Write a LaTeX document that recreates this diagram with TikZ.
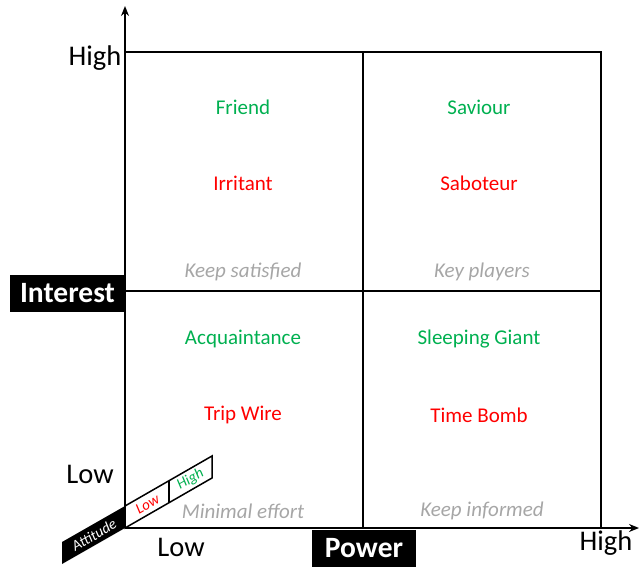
\documentclass[tikz,border=0pt]{standalone}
\usepackage{fontspec}
\setmainfont{Carlito}
\usetikzlibrary{arrows.meta}
\definecolor{grn}{HTML}{00B050}
\definecolor{rd}{HTML}{FF0000}
\definecolor{gry}{HTML}{A6A6A6}
\begin{document}
\begin{tikzpicture}[x=1pt,y=-1pt,
  gridline/.style={line width=2.6pt},
  axisline/.style={line width=2.6pt,-{Stealth[length=10pt,width=8pt]}},
  qtext/.style={font=\fontsize{21}{25}\selectfont,inner sep=0pt},
  good/.style={qtext,text=grn},
  bad/.style={qtext,text=rd},
  strat/.style={font=\fontsize{21}{25}\selectfont\itshape,text=gry,inner sep=0pt},
  axlab/.style={font=\fontsize{28.5}{32}\selectfont,inner sep=0pt},
  axbox/.style={fill=black,text=white,font=\fontsize{29.5}{32}\selectfont\bfseries,inner sep=0pt,minimum height=37pt},
  attbox/.style={line width=1.5pt,draw=black},
  atttext/.style={font=\fontsize{15}{17}\selectfont\itshape,inner sep=0pt,rotate=29.8},
]
\useasboundingbox (0,0) rectangle (639,567);
% key points
\coordinate (O) at (125,528);
\coordinate (ytop) at (125,6);
\coordinate (xend) at (639,528);
\coordinate (TL) at (125,52);
\coordinate (TM) at (363,52);
\coordinate (TR) at (601,52);
\coordinate (ML) at (125,291);
\coordinate (MR) at (601,291);
\coordinate (BM) at (363,528);
\coordinate (BR) at (601,528);
% grid
\draw[gridline] (TL) -- (TR) -- (BR);
\draw[gridline] (TM) -- (BM);
\draw[gridline] (ML) -- (MR);
\draw[axisline] (O) -- (ytop);
\draw[axisline] (O) -- (xend);
% axis labels
\node[axlab] (yhigh) at (95,58) {High};
\node[axlab] (ylow) at (90,474) {Low};
\node[axlab] (xlow) at (181,547) {Low};
\node[axlab] (xhigh) at (606,543) {High};
\node[axbox,minimum width=115pt] (interest) at (67.5,293) {Interest};
\node[axbox,minimum width=104pt] (power) at (364,548.5) {Power};
% quadrants
\node[good] (friend) at (243,107) {Friend};
\node[bad] (irritant) at (243,183) {Irritant};
\node[strat] (ks) at (243,272) {Keep satisfied};
\node[good] (saviour) at (479,107) {Saviour};
\node[bad] (saboteur) at (479,183) {Saboteur};
\node[strat] (kp) at (482,272) {Key players};
\node[good] (acq) at (243,339) {Acquaintance};
\node[bad] (trip) at (243,415) {Trip Wire};
\node[strat] (me) at (243,511) {Minimal effort};
\node[good] (giant) at (479,339) {Sleeping Giant};
\node[bad] (bomb) at (479,415) {Time Bomb};
\node[strat] (ki) at (482,511) {Keep informed};
% attitude
\fill[black] (62,542) -- (125,506) -- (125,528) -- (62,564) -- cycle;
\draw[attbox,fill=white] (125,506) -- (212,456) -- (212,478) -- (125,528) -- cycle;
\draw[attbox] (169,480.7) -- (169,502.7);
\node[atttext,text=white] (att) at (94,535) {Attitude};
\node[atttext,text=rd] (attlow) at (147.5,504.5) {Low};
\node[atttext,text=grn] (atthigh) at (190.5,479.5) {High};
\end{tikzpicture}
\end{document}
